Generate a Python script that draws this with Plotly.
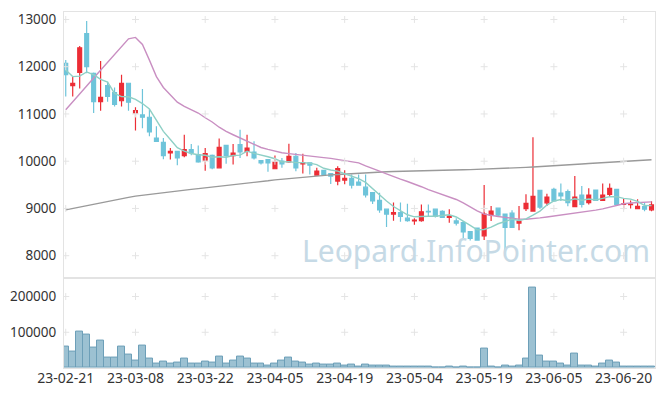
import plotly.graph_objects as go
from plotly.subplots import make_subplots

dates = (
    ["23-02-21", "23-02-22", "23-02-23", "23-02-24", "23-02-27", "23-02-28"]
    + ["23-03-%02d" % d for d in [2, 3, 6, 7, 8, 9, 10, 13, 14, 15, 16, 17, 20, 21, 22, 23, 24, 27, 28, 29, 30, 31]]
    + ["23-04-%02d" % d for d in [3, 4, 5, 6, 7, 10, 11, 12, 13, 14, 17, 18, 19, 20, 21, 24, 25, 26, 27, 28]]
    + ["23-05-%02d" % d for d in [2, 3, 4, 8, 9, 10, 11, 12, 15, 16, 17, 18, 19, 22, 23, 24, 25, 26, 30, 31]]
    + ["23-06-%02d" % d for d in [1, 2, 5, 7, 8, 9, 12, 13, 14, 15, 16, 19, 20, 21, 22, 23, 26]]
)

opens = [12070, 11600, 11880, 12700, 11860, 11260, 11600, 11450, 11280, 11650,
         11020, 10980, 10930, 10490, 10400, 10175, 10210, 10120, 10245, 10140,
         10020, 10125, 9860, 10335, 10120, 10350, 10210, 10195, 10015, 10035,
         9840, 10000, 9985, 10105, 9945, 9965, 9705, 9805, 9740, 9580,
         9600, 9635, 9560, 9450, 9335, 9170, 8985, 8880, 8910, 8795,
         8735, 8740, 8940, 8985, 8940, 8810, 8735, 8700, 8510, 8585,
         8420, 8860, 9005, 8880, 8900, 8690, 8995, 8945, 9385, 9120,
         9405, 9325, 9355, 9040, 9285, 9125, 9390, 9170, 9300, 9405,
         9085, 9080, 8995, 9040, 8970]
highs = [12140, 11790, 12440, 12970, 11880, 12120, 11680, 11560, 11830, 11650,
         11140, 11530, 11100, 10740, 10490, 10280, 10210, 10560, 10365, 10330,
         10280, 10140, 10480, 10335, 10365, 10665, 10560, 10420, 10015, 10035,
         10120, 10070, 10370, 10175, 10160, 9965, 9860, 9805, 9740, 9895,
         9810, 9720, 9720, 9720, 9335, 9335, 8985, 9125, 9125, 9100,
         8795, 9085, 9085, 8985, 8960, 8985, 8795, 8735, 8510, 8585,
         9495, 9050, 9010, 8880, 8960, 9050, 9300, 10505, 9385, 9310,
         9440, 9530, 9400, 9685, 9475, 9425, 9390, 9530, 9530, 9405,
         9215, 9170, 9195, 9125, 9155]
lows = [11370, 11370, 11540, 11860, 11020, 11070, 11260, 11160, 11160, 11070,
        10650, 10700, 10530, 10420, 10040, 10035, 9915, 10085, 10125, 9965,
        9800, 9830, 9850, 9945, 9930, 10070, 10105, 10035, 9930, 9775,
        9840, 9860, 9965, 9790, 9740, 9720, 9700, 9700, 9520, 9490,
        9510, 9420, 9495, 9230, 9095, 8910, 8610, 8740, 8720, 8720,
        8655, 8720, 8820, 8810, 8800, 8700, 8640, 8330, 8320, 8330,
        8330, 8735, 8830, 8105, 8600, 8540, 8945, 8945, 8990, 9050,
        9140, 9160, 9045, 9040, 9020, 9085, 9160, 9170, 9265, 9050,
        8985, 9000, 8985, 8940, 8940]
closes = [11830, 11650, 12400, 12000, 11260, 11350, 11370, 11200, 11650, 11250,
          11070, 10930, 10620, 10420, 10120, 10210, 10070, 10245, 10175, 9985,
          10160, 9860, 10295, 10120, 10170, 10195, 10280, 10070, 9965, 9965,
          9980, 9945, 10105, 9860, 9965, 9915, 9790, 9720, 9685, 9845,
          9635, 9495, 9495, 9285, 9160, 8970, 8880, 8910, 8830, 8740,
          8755, 8930, 8925, 8830, 8810, 8840, 8690, 8505, 8365, 8330,
          8880, 8945, 8860, 8600, 8600, 8725, 9110, 9255, 9030, 9240,
          9160, 9265, 9125, 9240, 9085, 9280, 9170, 9285, 9425, 9085,
          9100, 9090, 9045, 8985, 9075]
volumes = [59700, 45800, 101000, 93000, 56000, 76000, 28000, 28000, 59700, 37500,
           20800, 62500, 26400, 12500, 18000, 12500, 15300, 25500, 12500, 12500,
           18000, 15300, 31000, 12500, 20800, 31000, 25500, 12500, 12500, 6000,
           12500, 20800, 28000, 18000, 15300, 9700, 12500, 9000, 9000, 12000,
           6500, 9000, 3500, 9000, 6000, 6000, 6000, 3500, 3500, 3500,
           3500, 3500, 3500, 300, 300, 3500, 300, 4500, 300, 300,
           53000, 4500, 300, 6000, 3000, 6000, 25500, 226000, 34000, 17000,
           17000, 11500, 6000, 39000, 6000, 6000, 3000, 11500, 20800, 14400,
           3000, 3000, 3000, 3000, 3000]
ma5 = [11930, 11790, 11800, 11890, 11830, 11732, 11676, 11436, 11366, 11364,
       11308, 11220, 11104, 10858, 10632, 10460, 10288, 10213, 10164, 10137,
       10127, 10085, 10095, 10084, 10121, 10128, 10212, 10167, 10136, 10095,
       10052, 9985, 9992, 9971, 9971, 9958, 9927, 9850, 9815, 9791,
       9735, 9676, 9631, 9551, 9414, 9281, 9158, 9041, 8950, 8866,
       8823, 8833, 8836, 8836, 8850, 8867, 8819, 8735, 8642, 8546,
       8554, 8605, 8676, 8723, 8777, 8746, 8779, 8858, 8944, 9072,
       9159, 9190, 9164, 9206, 9175, 9199, 9180, 9212, 9249, 9249,
       9213, 9197, 9149, 9061, 9059]
ma20 = [11090, 11250, 11420, 11590, 11760, 11930, 12100, 12270, 12430, 12590,
        12620, 12470, 12140, 11790, 11560, 11400, 11250, 11160, 11090, 11020,
        10920, 10830, 10720, 10630, 10560, 10490, 10420, 10350, 10290, 10250,
        10210, 10180, 10160, 10140, 10120, 10105, 10090, 10075, 10060, 10040,
        10015, 9990, 9965, 9900, 9850, 9790, 9730, 9670, 9620, 9570,
        9520, 9460, 9400, 9350, 9300, 9240, 9190, 9120, 9030, 8950,
        8880, 8850, 8830, 8810, 8790, 8775, 8770, 8780, 8800, 8820,
        8840, 8860, 8875, 8890, 8920, 8945, 8965, 8990, 9025, 9070,
        9100, 9115, 9120, 9130, 9140]
ma120 = [8970, 9000, 9035, 9070, 9100, 9130, 9160, 9185, 9210, 9235,
         9260, 9280, 9300, 9320, 9340, 9360, 9375, 9390, 9405, 9420,
         9435, 9450, 9465, 9480, 9495, 9510, 9525, 9545, 9565, 9585,
         9605, 9620, 9635, 9650, 9662, 9674, 9686, 9698, 9710, 9720,
         9730, 9740, 9748, 9756, 9763, 9770, 9776, 9782, 9787, 9792,
         9796, 9800, 9803, 9806, 9809, 9812, 9815, 9818, 9821, 9825,
         9830, 9837, 9844, 9850, 9856, 9862, 9869, 9876, 9883, 9890,
         9898, 9908, 9918, 9928, 9940, 9950, 9960, 9970, 9982, 9995,
         10003, 10010, 10017, 10024, 10030]

x_tick_labels = ["23-02-21", "23-03-08", "23-03-22", "23-04-05", "23-04-19",
                 "23-05-04", "23-05-19", "23-06-05", "23-06-20"]
price_ticks = [8000, 9000, 10000, 11000, 12000, 13000]
volume_ticks = [100000, 200000]

UP = "#ec2d35"
DOWN = "#6ec4da"
FONT = "Noto Sans"

fig = make_subplots(rows=2, cols=1, shared_xaxes=True, vertical_spacing=0,
                    row_heights=[0.746, 0.254])

fig.add_trace(go.Scatter(x=dates, y=ma120, mode="lines",
                         line=dict(color="#9a9a9a", width=1.4), showlegend=False), row=1, col=1)
fig.add_trace(go.Scatter(x=dates, y=ma20, mode="lines",
                         line=dict(color="#c98fc2", width=1.4), showlegend=False), row=1, col=1)
fig.add_trace(go.Scatter(x=dates, y=ma5, mode="lines",
                         line=dict(color="#8fd0c6", width=1.4), showlegend=False), row=1, col=1)

fig.add_trace(go.Candlestick(
    x=dates, open=opens, high=highs, low=lows, close=closes,
    increasing=dict(line=dict(color=UP, width=1.2), fillcolor=UP),
    decreasing=dict(line=dict(color=DOWN, width=1.2), fillcolor=DOWN),
    whiskerwidth=0, showlegend=False), row=1, col=1)

fig.add_trace(go.Bar(x=dates, y=volumes, marker=dict(color="#9cc1d2",
                     line=dict(color="#6d9fb8", width=1)),
                     showlegend=False), row=2, col=1)

# grid "+" markers at tick intersections
fig.add_trace(go.Scatter(
    x=[d for d in x_tick_labels for _ in price_ticks],
    y=[p for _ in x_tick_labels for p in price_ticks],
    mode="markers", marker=dict(symbol="cross-thin", size=5,
                                line=dict(color="#e4e4e4", width=1)),
    hoverinfo="skip", showlegend=False), row=1, col=1)
fig.add_trace(go.Scatter(
    x=[d for d in x_tick_labels for _ in volume_ticks],
    y=[v for _ in x_tick_labels for v in volume_ticks],
    mode="markers", marker=dict(symbol="cross-thin", size=5,
                                line=dict(color="#e4e4e4", width=1)),
    hoverinfo="skip", showlegend=False), row=2, col=1)

fig.add_annotation(text="Leopard.InfoPointer.com", xref="paper", yref="paper",
                   x=0.697, y=0.33, xanchor="center", yanchor="middle",
                   showarrow=False,
                   font=dict(family=FONT, size=30, color="#c6dae6"))

axis_line = "#e3e3e3"
fig.update_xaxes(type="category", categoryorder="array", categoryarray=dates,
                 range=[-0.25, 84.5], showgrid=False,
                 showline=True, linecolor=axis_line, mirror=True,
                 tickmode="array", tickvals=x_tick_labels, ticktext=x_tick_labels,
                 ticks="", tickangle=0, ticklabelstandoff=-3,
                 rangeslider=dict(visible=False),
                 tickfont=dict(family=FONT, size=14, color="#333333"))
fig.update_xaxes(showticklabels=False, row=1, col=1)
fig.update_yaxes(range=[7537, 13158], tickvals=price_ticks, showgrid=False,
                 zeroline=False, showline=True, linecolor=axis_line, mirror=True,
                 ticks="outside", ticklen=4, tickcolor="rgba(0,0,0,0)",
                 tickformat="d",
                 tickfont=dict(family=FONT, size=13.5, color="#333333"), row=1, col=1)
fig.update_yaxes(range=[0, 253000], tickvals=volume_ticks, showgrid=False,
                 zeroline=False, showline=True, linecolor=axis_line, mirror=True,
                 ticks="outside", ticklen=4, tickcolor="rgba(0,0,0,0)",
                 tickformat="d",
                 tickfont=dict(family=FONT, size=13.5, color="#333333"), row=2, col=1)

# page body has an 8px margin; size the figure so the plot area lands where the reference has it
fig.update_layout(width=657, height=388, margin=dict(l=54, r=10, t=2, b=28),
                  plot_bgcolor="white", paper_bgcolor="white", bargap=0,
                  boxgap=0.2, showlegend=False)

fig.write_html("out.html", config={"displayModeBar": False})
